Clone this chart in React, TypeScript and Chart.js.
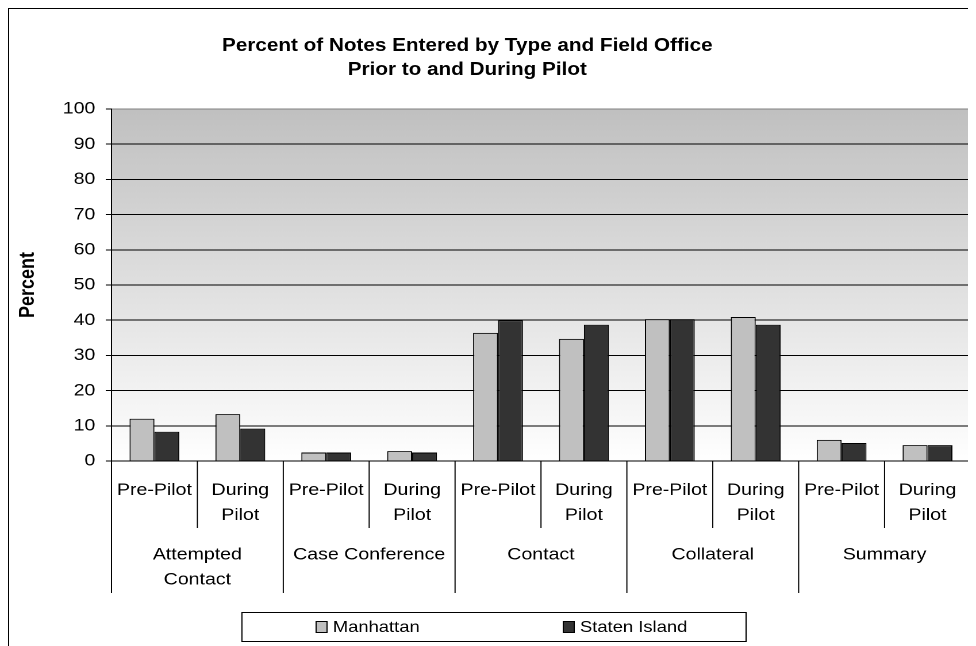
import React, { useEffect, useRef } from "react";
import { Chart, registerables } from "chart.js";

Chart.register(...registerables);

// ---- data ----
const titleLines = ["Percent of Notes Entered by Type and Field Office", "Prior to and During Pilot"];
const yAxisTitle = "Percent";
const subLabels: (string | string[])[] = [
  "Pre-Pilot", ["During", "Pilot"],
  "Pre-Pilot", ["During", "Pilot"],
  "Pre-Pilot", ["During", "Pilot"],
  "Pre-Pilot", ["During", "Pilot"],
  "Pre-Pilot", ["During", "Pilot"],
];
const groupLabels: string[][] = [
  ["Attempted", "Contact"],
  ["Case Conference"],
  ["Contact"],
  ["Collateral"],
  ["Summary"],
];
const seriesNames = ["Manhattan", "Staten Island"];
const manhattan = [12.0, 13.3, 2.4, 2.8, 36.4, 34.7, 40.3, 40.9, 6.0, 4.5];
const statenIsland = [8.3, 9.2, 2.4, 2.4, 40.0, 38.7, 40.3, 38.7, 5.1, 4.5];
const yMin = 0;
const yMax = 100;
const yStep = 10;

// ---- style ----
const FONT = "'Liberation Sans', Arial, Helvetica, sans-serif";
const COLORS = ["#c0c0c0", "#333333"];
const W = 842; // internal drawing width, stretched to 968 css px
const H = 638;
const CSS_W = 968;

const decorPlugin = {
  id: "decor",
  beforeDraw(chart: any) {
    const { ctx, chartArea } = chart;
    const { left, top, right, bottom } = chartArea;
    ctx.save();
    const g = ctx.createLinearGradient(0, top, 0, bottom);
    g.addColorStop(0, "#c0c0c0");
    g.addColorStop(1, "#ffffff");
    ctx.fillStyle = g;
    ctx.fillRect(left, top, right - left, bottom - top);
    ctx.restore();
  },
  afterDraw(chart: any) {
    const { ctx, chartArea } = chart;
    const { left, top, right, bottom } = chartArea;
    const x = chart.scales.x;
    ctx.save();

    // outer frame (left and top edges)
    ctx.strokeStyle = "#000";
    ctx.lineWidth = 1;
    ctx.beginPath();
    ctx.moveTo(0.5, H);
    ctx.lineTo(0.5, 0.5);
    ctx.lineTo(W, 0.5);
    ctx.stroke();

    // plot area right border
    ctx.strokeStyle = "#808080";
    ctx.beginPath();
    ctx.moveTo(right - 0.5, top);
    ctx.lineTo(right - 0.5, bottom);
    ctx.stroke();

    // category dividers
    const step = x.getPixelForValue(1) - x.getPixelForValue(0);
    ctx.strokeStyle = "#000";
    for (let i = 0; i <= subLabels.length; i++) {
      const px = x.getPixelForValue(0) - step / 2 + i * step;
      const end = i % 2 === 0 ? 585 : 520;
      ctx.beginPath();
      ctx.moveTo(px, bottom);
      ctx.lineTo(px, end);
      ctx.stroke();
    }

    // group labels
    ctx.fillStyle = "#000";
    ctx.font = `17px ${FONT}`;
    ctx.textAlign = "center";
    ctx.textBaseline = "middle";
    groupLabels.forEach((lines, gi) => {
      const cx = (x.getPixelForValue(gi * 2) + x.getPixelForValue(gi * 2 + 1)) / 2;
      lines.forEach((ln, li) => ctx.fillText(ln, cx, 547 + li * 25));
    });

    // title
    ctx.font = `bold 18px ${FONT}`;
    titleLines.forEach((ln, i) => ctx.fillText(ln, 399.5, 38 + i * 24));

    // y axis title
    ctx.save();
    ctx.translate(17.5, (top + bottom) / 2);
    ctx.rotate(-Math.PI / 2);
    ctx.fillText(yAxisTitle, 0, 0);
    ctx.restore();

    // legend
    const lx = 203.5, ly = 604.5, lw = 438.5, lh = 29;
    ctx.strokeStyle = "#000";
    ctx.strokeRect(lx, ly, lw, lh);
    const cy = ly + lh / 2;
    const itemX = [268, 483];
    ctx.font = `16px ${FONT}`;
    ctx.textAlign = "left";
    seriesNames.forEach((name, i) => {
      ctx.fillStyle = COLORS[i];
      ctx.fillRect(itemX[i], cy - 5.5, 9.5, 11);
      ctx.strokeStyle = "#000";
      ctx.strokeRect(itemX[i], cy - 5.5, 9.5, 11);
      ctx.fillStyle = "#000";
      ctx.fillText(name, itemX[i] + 14.5, cy + 0.5);
    });
    ctx.restore();
  },
};

export default function App() {
  const ref = useRef<HTMLCanvasElement | null>(null);
  useEffect(() => {
    document.body.style.overflow = "hidden";
    const canvas = ref.current!;
    const chart = new Chart(canvas, {
      type: "bar",
      data: {
        labels: subLabels as any,
        datasets: [
          {
            label: seriesNames[0],
            data: manhattan,
            backgroundColor: COLORS[0],
            borderColor: "#000",
            borderWidth: 1,
            categoryPercentage: 0.58,
            barPercentage: 1,
          },
          {
            label: seriesNames[1],
            data: statenIsland,
            backgroundColor: COLORS[1],
            borderColor: "#000",
            borderWidth: 1,
            categoryPercentage: 0.58,
            barPercentage: 1,
          },
        ],
      },
      options: {
        responsive: false,
        animation: false,
        devicePixelRatio: 2,
        layout: { padding: { top: 101, right: 3, left: 0, bottom: 0 } },
        plugins: {
          legend: { display: false },
          title: { display: false },
          tooltip: { enabled: false },
        },
        scales: {
          x: {
            grid: { display: false, drawTicks: false, tickLength: 0 },
            border: { display: true, color: "#000", width: 1 },
            ticks: {
              color: "#000",
              font: { family: FONT, size: 17, lineHeight: 1.46 },
              padding: 17,
              maxRotation: 0,
              minRotation: 0,
              autoSkip: false,
            },
            afterFit: (s: any) => {
              s.height = 185;
            },
          },
          y: {
            min: yMin,
            max: yMax,
            ticks: {
              stepSize: yStep,
              color: "#000",
              font: { family: FONT, size: 17 },
              padding: 9,
            },
            grid: {
              color: (c: any) => (c.tick && c.tick.value === yMax ? "#808080" : "#000"),
              lineWidth: 1,
              drawTicks: true,
              tickLength: 5,
              tickColor: "#000",
            },
            border: { display: true, color: "#000", width: 1 },
            afterFit: (s: any) => {
              s.width = 90;
            },
          },
        },
      },
      plugins: [decorPlugin],
    });
    return () => chart.destroy();
  }, []);
  return (
    <div style={{ width: CSS_W, height: H }}>
      <canvas
        ref={ref}
        width={W}
        height={H}
        style={{ width: CSS_W + "px", height: H + "px", display: "block" }}
      />
    </div>
  );
}
